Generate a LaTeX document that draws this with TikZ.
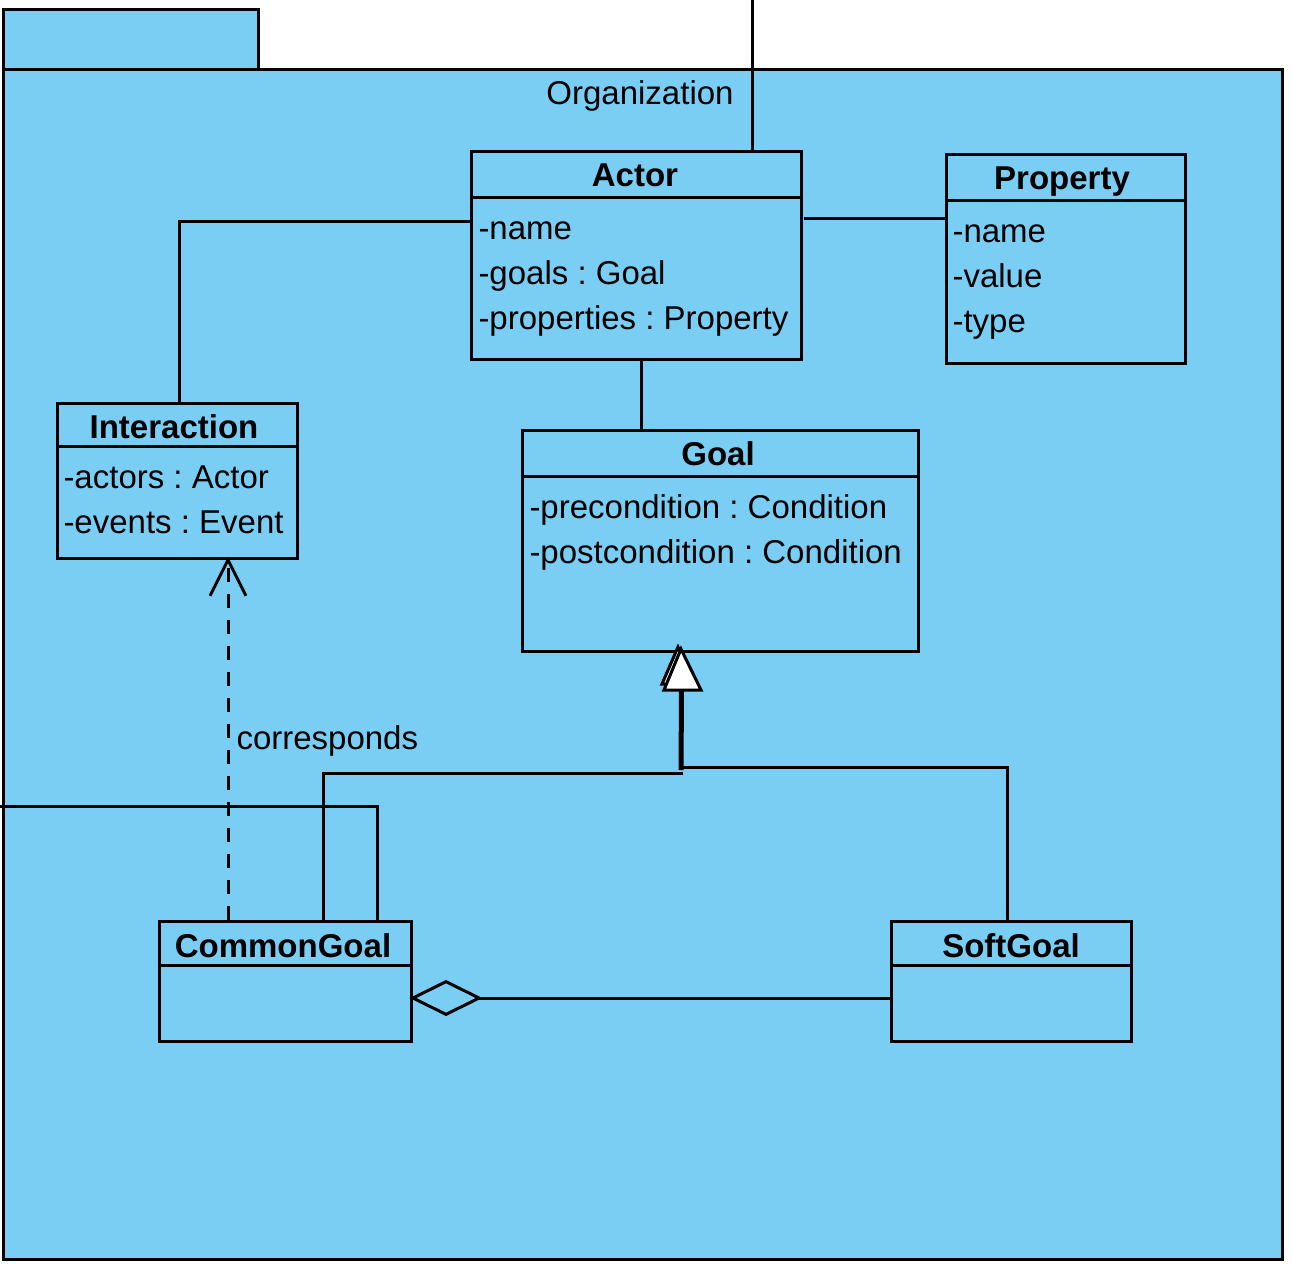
\documentclass[tikz,border=0pt]{standalone}
\usepackage{fontspec}
\setmainfont{Liberation Sans}
\usetikzlibrary{arrows.meta}
\definecolor{pkgblue}{RGB}{122,206,244}
\frenchspacing

\begin{document}
\begin{tikzpicture}[x=1pt, y=-1pt, line width=3pt,
  box/.style={draw, fill=pkgblue, anchor=north west, inner sep=0pt, line width=3pt},
  attr/.style={anchor=base west, inner sep=0pt, font=\fontsize{33}{40}\selectfont},
  ctitle/.style={anchor=base, inner sep=0pt, font=\fontsize{33}{40}\selectfont\bfseries},
  link/.style={draw, line width=3pt},
  depends/.style={draw, line width=3pt, dash pattern=on 14pt off 12pt, shorten >=-3pt,
    -{Straight Barb[length=36pt, width=36pt, line width=3pt]}},
  hollowtri/.style={draw, fill=white, line width=3pt, line join=miter}]

\useasboundingbox (0,0) rectangle (1292,1275);

% package with its tab
\node[box, minimum width=255pt, minimum height=60pt] (tab) at (1.5,7.5) {};
\node[box, minimum width=1279pt, minimum height=1190pt] (pkg) at (1.5,67.5) {};
\node[anchor=base, inner sep=0pt, font=\fontsize{33}{40}\selectfont] (pkgname) at (640,104) {Organization};

% classes
\node[box, minimum width=330pt, minimum height=208pt] (actor) at (469.5,149.5) {};
\draw (470,197) -- (800,197);
\node[ctitle] (actorT) at (635,186) {Actor};
\node[attr] (actorA1) at (477,239) {-name};
\node[attr] (actorA2) at (477,284) {-goals : Goal};
\node[attr] (actorA3) at (477,329) {-properties : Property};

\node[box, minimum width=239pt, minimum height=209pt] (property) at (944.5,152.5) {};
\draw (945,200) -- (1184,200);
\node[ctitle] (propertyT) at (1062,189) {Property};
\node[attr] (propertyA1) at (951,242) {-name};
\node[attr] (propertyA2) at (951,287) {-value};
\node[attr] (propertyA3) at (951,332) {-type};

\node[box, minimum width=240pt, minimum height=155pt] (interaction) at (55.5,401.5) {};
\draw (56,446) -- (296,446);
\node[ctitle] (interactionT) at (174,438) {Interaction};
\node[attr] (interactionA1) at (62,488) {-actors : Actor};
\node[attr] (interactionA2) at (62,533) {-events : Event};

\node[box, minimum width=396pt, minimum height=221pt] (goal) at (520.5,428.5) {};
\draw (521,476) -- (917,476);
\node[ctitle] (goalT) at (718,465) {Goal};
\node[attr] (goalA1) at (528,518) {-precondition : Condition};
\node[attr] (goalA2) at (528,563) {-postcondition : Condition};

\node[box, minimum width=252pt, minimum height=120pt] (common) at (157.5,919.5) {};
\draw (158,965) -- (410,965);
\node[ctitle] (commonT) at (283,957) {CommonGoal};

\node[box, minimum width=240pt, minimum height=120pt] (soft) at (889.5,919.5) {};
\draw (890,965) -- (1130,965);
\node[ctitle] (softT) at (1011,957) {SoftGoal};

% free ends of connectors
\coordinate (topend) at (752,0);
\coordinate (leftend) at (0,806);
\coordinate (apstart) at (804,218);
\coordinate (genjoin) at (681,770);
\coordinate (aggstart) at ([xshift=-3pt]common.east);

% associations
\draw[link] (topend) -- (topend |- actor.north);
\draw[link] (apstart) -- (apstart -| property.west);
\draw[link] (actor.west |- 0,221) -| (interaction.north -| 179,0);
\draw[link] (actor.south -| 641,0) -- (goal.north -| 641,0);
\draw[link] (leftend) -| (common.north -| 377,0);

% dependency
\draw[depends] (common.north -| 228,0) -- (interaction.south -| 228,0);
\node[attr] (corr) at (235,749) {corresponds};

% generalization
\draw[link] (common.north -| 323,0) |- (683,773);
\draw[link] (soft.north -| 1007,0) |- (681,767);
\draw[line width=5pt] (genjoin) -- (681.5,690);
\draw[hollowtri] (678,647) -- (697,684) -- (662,684) -- cycle;
\draw[hollowtri] (681,649) -- (701,690) -- (664,690) -- cycle;

% aggregation
\draw[link, {Diamond[length=73pt, width=36pt, line width=3pt, fill=pkgblue]}-] (aggstart |- 0,998) -- (soft.west |- 0,998);
\end{tikzpicture}
\end{document}
